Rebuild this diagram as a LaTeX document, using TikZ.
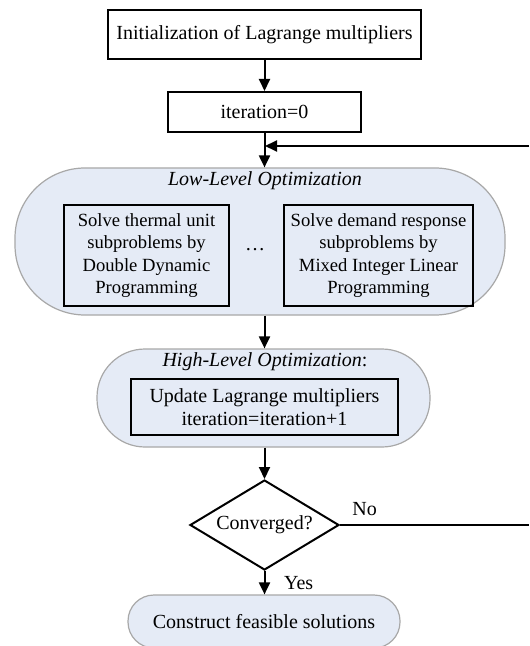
\documentclass[tikz,border=0pt]{standalone}
\usepackage{fontspec}
\setmainfont{Liberation Serif}
\usetikzlibrary{shapes.geometric,arrows.meta}
\definecolor{regfill}{HTML}{E5EBF6}
\definecolor{regline}{HTML}{A8A8A8}
\begin{document}
\begin{tikzpicture}[x=0.5pt,y=-0.5pt,
  font=\fontsize{10pt}{11.5pt}\selectfont,
  box/.style={draw=black,line width=1pt,align=center,inner sep=0pt},
  small/.style={font=\fontsize{9.3pt}{11.2pt}\selectfont},
  region/.style={draw=regline,line width=0.6pt,fill=regfill,rectangle,inner sep=0pt},
  arr/.style={line width=1pt,-{Triangle[length=6pt,width=5.5pt]}},
  ln/.style={line width=1pt}]
\useasboundingbox (0,0) rectangle (529,646);
% regions
\node[region,rounded corners=35pt,minimum width=245pt,minimum height=73.5pt] (low) at (260,241.5) {};
\node[region,rounded corners=24pt,minimum width=166.5pt,minimum height=49pt] (high) at (263.5,398) {};
\node[region,rounded corners=13pt,minimum width=136pt,minimum height=26.5pt] (fin) at (264,621.5) {Construct feasible solutions};
% boxes
\node[box,minimum width=156.5pt,minimum height=24.5pt] (init) at (264.5,34.5) {Initialization of Lagrange multipliers};
\node[box,minimum width=96.5pt,minimum height=20pt] (it0) at (264.5,112) {iteration=0};
\node (lowt) at (265,181) {\itshape Low-Level Optimization};
\node[box,small,minimum width=82.5pt,minimum height=50.5pt] (sl) at (146.5,255.5) {Solve thermal unit\\subproblems by\\Double Dynamic\\Programming};
\node[box,small,minimum width=94.5pt,minimum height=50.5pt] (sr) at (378.5,255.5) {Solve demand response\\subproblems by\\Mixed Integer Linear\\Programming};
\node (dots) at (255,250) {\dots};
\node (hight) at (265,362) {\textit{High-Level Optimization}:};
\node[box,line width=0.8pt,minimum width=133.5pt,minimum height=28pt] (upd) at (264.5,407) {Update Lagrange multipliers\\iteration=iteration+1};
\node[diamond,draw=black,line width=1pt,inner sep=0pt,shape aspect=1.66,minimum width=74.5pt,minimum height=45pt] (dia) at (264.5,525) {Converged?};
% free ends
\coordinate (fbR) at (529,146);
\coordinate (fbJ) at (265,146);
\coordinate (noR) at (529,525);
% connectors
\draw[arr] (init.south) -- (it0.north);
\draw[arr] (it0.south) -- (it0.south |- low.north);
\draw[arr] (fbR) -- (fbJ);
\draw[arr] (low.south -| dia.north) -- (dia.north |- high.north);
\draw[arr] (dia.north |- high.south) -- (dia.north);
\draw[ln] (dia.east) -- (noR) node[pos=0.13,above=1pt] {No};
\draw[arr] (dia.south) -- (dia.south |- fin.north) node[midway,right=6pt] {Yes};
\end{tikzpicture}
\end{document}
